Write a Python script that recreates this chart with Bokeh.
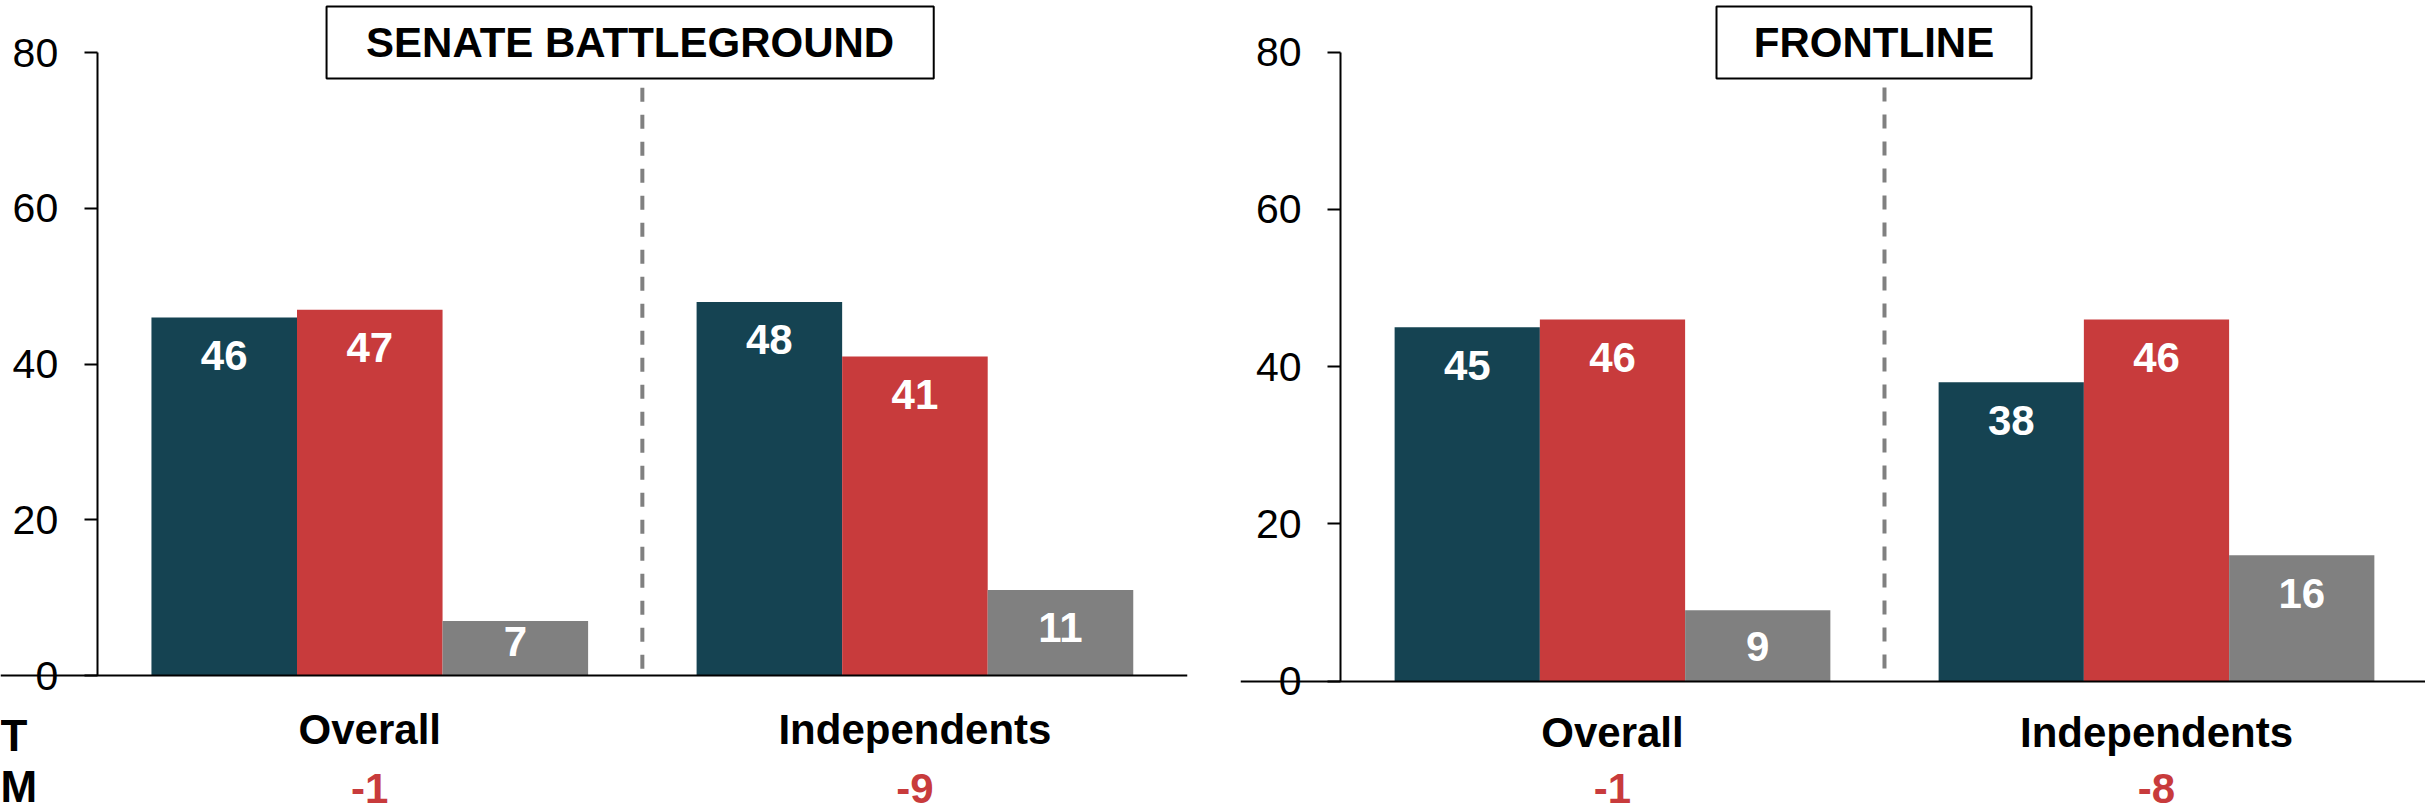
from bokeh.plotting import figure
from bokeh.models import Range1d, FixedTicker, LinearAxis
from bokeh.layouts import row
from bokeh.embed import file_html
from bokeh.resources import INLINE
from bokeh.core.properties import value

# ---------------- data ----------------
categories = ["Overall", "Independents"]
panel_titles = ["SENATE BATTLEGROUND", "FRONTLINE"]
senate_blue = [46, 48]
senate_red = [47, 41]
senate_gray = [7, 11]
senate_margin = ["-1", "-9"]
front_blue = [45, 38]
front_red = [46, 46]
front_gray = [9, 16]
front_margin = ["-1", "-8"]
row_labels = ["T", "M"]
y_ticks = [0, 20, 40, 60, 80]

# ---------------- style ----------------
FONT = "Liberation Sans"
COLORS = ["#154352", "#C83B3C", "#808080"]
BAR_W = 0.267
CANVAS_H = 811


def style_axis(ax, size, bold, color, standoff):
    ax.major_tick_out = 0
    ax.major_tick_in = 0
    ax.minor_tick_out = 0
    ax.minor_tick_in = 0
    ax.major_label_standoff = standoff
    ax.major_label_text_font = FONT
    ax.major_label_text_font_style = "bold" if bold else "normal"
    ax.major_label_text_font_size = size
    ax.major_label_text_color = color


def make_panel(title, series, margins, width, b_right, x_lo, x_hi,
               y_lo, y_hi, box, cat_standoff, margin_standoff, row_pos=None):
    p = figure(width=width, height=CANVAS_H,
               x_range=Range1d(x_lo, x_hi), y_range=Range1d(y_lo, y_hi),
               output_backend="svg", toolbar_location=None,
               min_border_left=0, min_border_right=b_right,
               min_border_top=0, min_border_bottom=0)
    p.outline_line_color = None
    p.background_fill_color = "white"
    p.border_fill_color = "white"
    p.xgrid.visible = False
    p.ygrid.visible = False

    n = len(categories)
    for j, vals in enumerate(series):
        xs = [i + 0.5 + (j - 1) * BAR_W for i in range(n)]
        p.vbar(x=xs, top=vals, width=BAR_W, bottom=0,
               fill_color=COLORS[j], line_color=None)
        ys = [max(v - 4.85, 4.4) for v in vals]
        p.text(x=xs, y=ys, text=[str(v) for v in vals],
               text_color="white", text_font=value(FONT),
               text_font_style="bold", text_font_size="42px",
               text_align="center", text_baseline="middle")

    # separator between the two categories (drawn top-down so a dash starts at the top)
    p.segment(x0=[n / 2], y0=[75.5], x1=[n / 2], y1=[0],
              line_color="#808080", line_width=4, line_dash="14 13")

    # title box
    bx0, bx1, by0, by1 = box
    p.quad(left=[bx0], right=[bx1], bottom=[by0], top=[by1],
           fill_color="white", line_color="black", line_width=2)
    p.text(x=[(bx0 + bx1) / 2], y=[(by0 + by1) / 2], text=[title],
           text_color="black", text_font=value(FONT), text_font_style="bold",
           text_font_size="42px", text_align="center", text_baseline="middle")

    # y axis (value scale), fixed at x = 0
    ya = p.yaxis[0]
    ya.fixed_location = 0
    ya.ticker = FixedTicker(ticks=y_ticks)
    ya.bounds = (0, 80)
    style_axis(ya, "41px", False, "black", 26)
    ya.axis_line_width = 2
    ya.axis_line_color = "black"
    ya.major_tick_line_width = 2
    ya.major_tick_out = 13

    cat_ticks = [i + 0.5 for i in range(n)]

    # x axis with category names, fixed at y = 0
    xa = p.xaxis[0]
    xa.fixed_location = 0
    xa.ticker = FixedTicker(ticks=cat_ticks)
    xa.major_label_overrides = {t: c for t, c in zip(cat_ticks, categories)}
    style_axis(xa, "42px", True, "black", cat_standoff)
    xa.axis_line_width = 2
    xa.axis_line_color = "black"

    # second x axis: margins row
    ma = LinearAxis(fixed_location=0, ticker=FixedTicker(ticks=cat_ticks))
    ma.major_label_overrides = {t: m for t, m in zip(cat_ticks, margins)}
    style_axis(ma, "42px", True, COLORS[1], margin_standoff)
    ma.axis_line_color = None
    p.add_layout(ma, "below")

    # row labels at far left
    if row_pos is not None:
        xs_r, ys_r = row_pos
        p.text(x=[xs_r] * len(row_labels), y=ys_r, text=row_labels,
               text_color="black", text_font=value(FONT),
               text_font_style="bold", text_font_size="44px",
               text_align="left", text_baseline="middle")
    return p


p1 = make_panel(panel_titles[0], [senate_blue, senate_red, senate_gray],
                senate_margin, width=1240, b_right=53,
                x_lo=-0.1774, x_hi=2.0,
                y_lo=-17.47, y_hi=86.72, box=(0.4207, 1.5345, 76.70, 85.95),
                cat_standoff=30, margin_standoff=98,
                row_pos=(-0.1774, [-7.7, -14.3]))
p2 = make_panel(panel_titles[1], [front_blue, front_red, front_gray],
                front_margin, width=1185, b_right=0,
                x_lo=-0.1838, x_hi=1.9945,
                y_lo=-16.60, y_hi=86.58, box=(0.6912, 1.2702, 76.65, 85.81),
                cat_standoff=28, margin_standoff=93)

layout = row(p1, p2)
open("out.html", "w").write(file_html(layout, INLINE))
